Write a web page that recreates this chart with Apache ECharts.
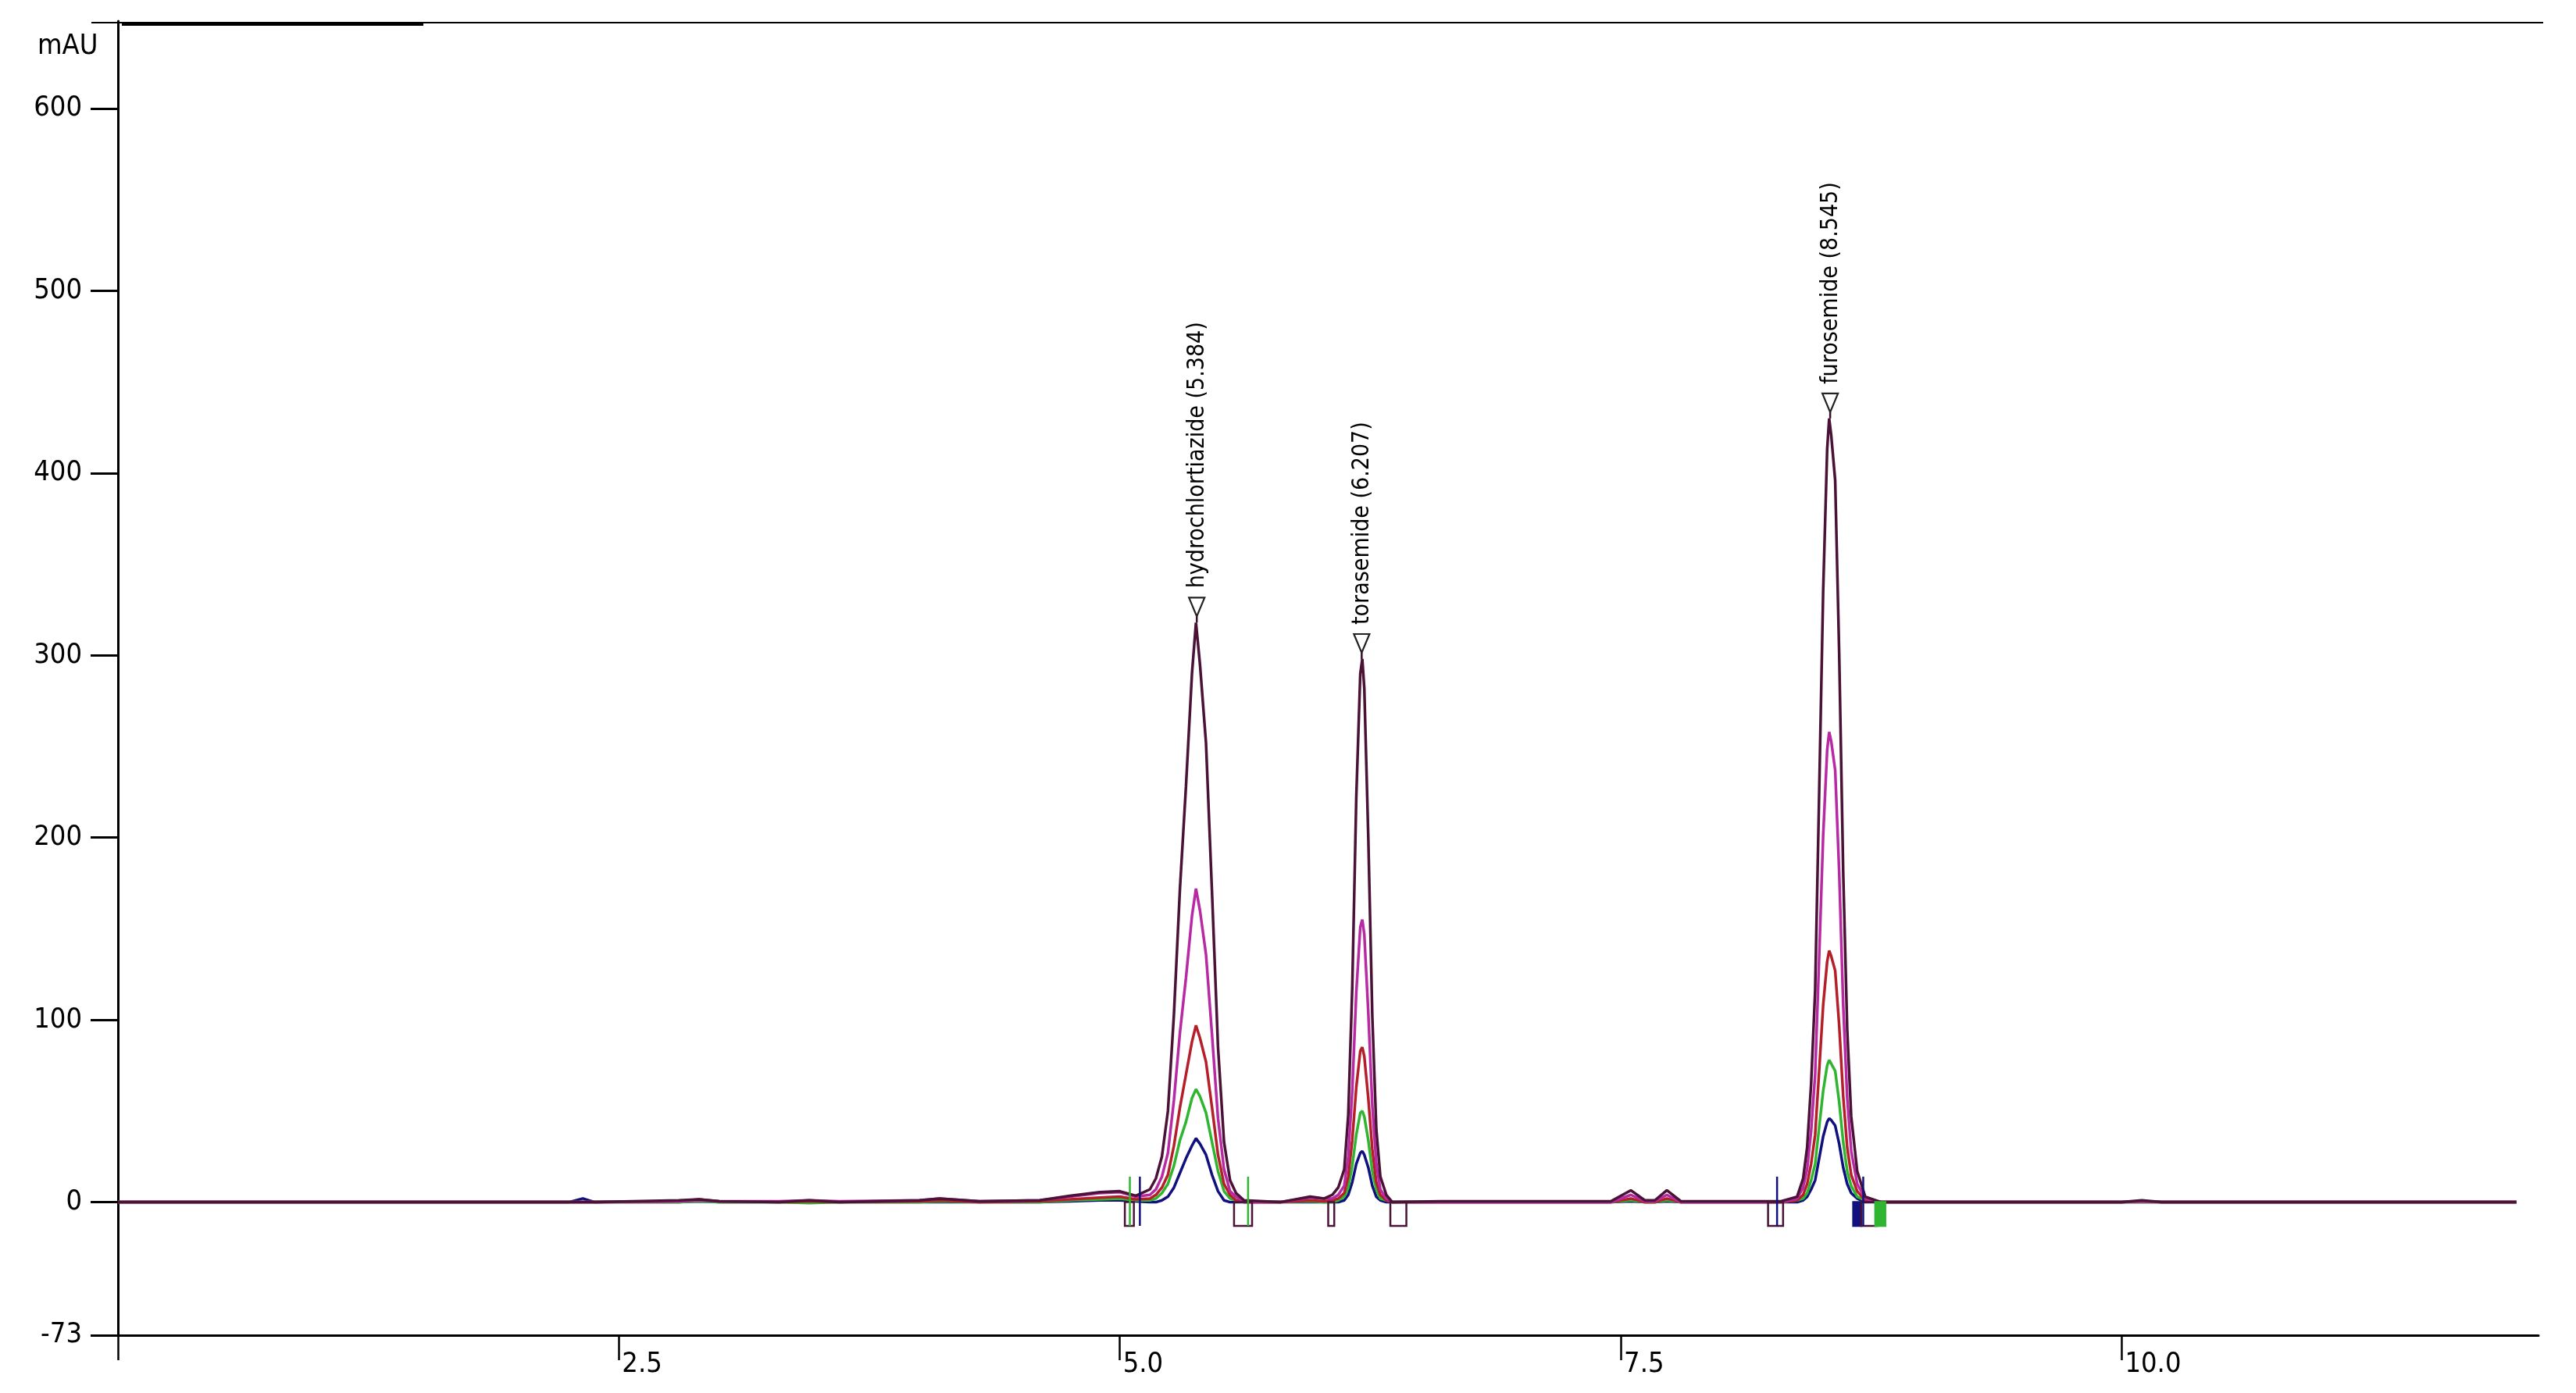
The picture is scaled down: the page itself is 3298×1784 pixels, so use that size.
<!DOCTYPE html>
<html>
<head>
<meta charset="utf-8">
<script src="https://cdn.jsdelivr.net/npm/echarts@6/dist/echarts.min.js"></script>
<style>
  html, body { margin: 0; padding: 0; background: #fff; }
  #chart { width: 3298px; height: 1784px; }
</style>
</head>
<body>
<div id="chart"></div>
<script>
// ---------------- DATA ----------------
// retention time (min) grid shared by all traces
const times = [
  0, 2.25, 2.32, 2.38, 2.8, 2.9, 3.0, 3.3, 3.45, 3.6, 4.0, 4.1, 4.3, 4.6, 4.75, 4.9, 5.0, 5.08,
  5.15, 5.18, 5.21, 5.24, 5.27, 5.30, 5.33, 5.36, 5.38, 5.40, 5.43, 5.46, 5.49, 5.52, 5.55, 5.58, 5.62,
  5.8, 5.95, 6.02,
  6.06, 6.09, 6.12, 6.14, 6.16, 6.18, 6.20, 6.21, 6.22, 6.24, 6.26, 6.28, 6.30, 6.33, 6.36,
  6.6, 7.45, 7.55, 7.62, 7.67, 7.73, 7.8, 8.3,
  8.38, 8.41, 8.43, 8.45, 8.47, 8.49, 8.51, 8.53, 8.54, 8.55, 8.57, 8.59, 8.61, 8.63, 8.65, 8.68, 8.72,
  8.8, 10.0, 10.1, 10.2, 11.97
];

// absorbance (mAU) of each overlaid run
const navyTrace = [
  0, 0, 2, 0, 0, 0.5, 0, 0, 0, 0, 0, 0, 0, 0, 0.5, 1, 1, 0.5,
  0, 0, 1, 3, 8, 16, 24, 31, 35, 32, 26, 15, 6, 1, 0, 0, 0,
  0, 0, 0,
  0, 0, 1, 4, 11, 21, 27, 28, 26, 19, 9, 3, 1, 0, 0,
  0, 0, 0.5, 0, 0, 0.5, 0, 0,
  0, 1, 3, 7, 12, 24, 36, 44, 46, 45, 42, 32, 19, 10, 5, 2, 0,
  0, 0, 0, 0, 0
];
const greenTrace = [
  0, 0, 0, 0, 0, 0.5, 0, 0, -0.5, 0, 0, 0.5, 0, 0, 1, 1.5, 2, 1,
  1, 2, 5, 10, 20, 34, 44, 57, 62, 58, 49, 33, 17, 6, 2, 1, 0,
  0, 0.5, 0,
  0, 1, 3, 8, 20, 37, 49, 50, 47, 34, 17, 7, 2, 1, 0,
  0, 0, 1, 0, 0, 1, 0, 0,
  1, 2, 5, 12, 21, 41, 61, 75, 78, 76, 72, 55, 33, 17, 9, 3, 1,
  0, 0, 0, 0, 0
];
const redTrace = [
  0, 0, 0, 0, 0.5, 1.5, 0.5, 0, 0.5, 0, 0.5, 1, 0, 0.5, 1.5, 2.5, 3, 1.5,
  2, 4, 8, 15, 31, 52, 70, 88, 97, 90, 77, 52, 26, 10, 4, 1, 0,
  0, 1, 0.5,
  1, 2, 5, 14, 34, 63, 83, 85, 80, 57, 29, 11, 4, 1, 0,
  0, 0, 2, 0, 0, 2, 0, 0,
  1, 4, 10, 21, 37, 72, 108, 132, 138, 135, 127, 97, 58, 30, 15, 6, 1,
  0, 0, 0.5, 0, 0
];
const magentaTrace = [
  0, 0, 0, 0, 0.5, 1, 0.5, 0.5, 1, 0.5, 1, 2, 0.5, 1, 3, 5, 5.5, 3,
  4, 7, 14, 27, 56, 93, 123, 157, 172, 160, 136, 92, 46, 18, 6, 3, 0,
  0, 2.5, 2,
  2, 4, 9, 25, 61, 115, 151, 155, 147, 104, 53, 21, 7, 2, 0,
  0, 0, 4, 0.5, 0.5, 4, 0, 0,
  2, 8, 18, 39, 70, 134, 201, 248, 258, 253, 237, 181, 108, 57, 28, 10, 2,
  0, 0, 0.5, 0, 0
];
const maroonTrace = [
  0, 0, 0, 0, 1, 1.5, 0.5, 0, 1, 0, 1, 2, 0.5, 1, 3.5, 5.5, 6, 3.5,
  7, 13, 25, 50, 103, 172, 228, 290, 318, 295, 252, 170, 85, 33, 12, 5, 1,
  0, 3, 2,
  4, 8, 18, 48, 118, 222, 290, 298, 282, 200, 102, 40, 14, 4, 0,
  0.5, 0.5, 6.5, 1, 1, 6.5, 0.5, 0.5,
  3, 13, 30, 65, 116, 224, 335, 413, 430, 421, 396, 301, 181, 95, 47, 17, 3,
  0, 0, 1, 0, 0
];

// peak annotations
const peakNames = ['hydrochlortiazide', 'torasemide', 'furosemide'];
const peakTimes = [5.384, 6.207, 8.545];
const peakHeights = [318, 298, 430];

// integration events: [time, trace index]
const eventTicks = [[5.05, 1], [5.10, 0], [5.64, 1], [8.28, 0], [8.71, 0]];
// baseline boxes: [start, end, trace index, filled]
const eventBoxes = [
  [5.025, 5.07, 4, 0], [5.57, 5.66, 4, 0], [6.04, 6.07, 4, 0], [6.35, 6.43, 4, 0],
  [8.235, 8.31, 4, 0], [8.66, 8.70, 0, 1], [8.70, 8.78, 4, 0], [8.77, 8.82, 1, 1]
];

// axis ticks
const xTickValues = [0, 2.5, 5, 7.5, 10];
const xLabelValues = [2.5, 5, 7.5, 10];
const yTickValues = [-73, 0, 100, 200, 300, 400, 500, 600];

// ---------------- CHART ----------------
const traceNames = ['run 1', 'run 2', 'run 3', 'run 4', 'run 5'];
const traceData = [navyTrace, greenTrace, redTrace, magentaTrace, maroonTrace];
const traceColors = ['#10107e', '#2fb52f', '#b51f2a', '#b82aa3', '#4a1236'];
const FONT = '"Liberation Sans Narrow", "Arial Narrow", "DejaVu Sans Condensed", sans-serif';

const chart = echarts.init(document.getElementById('chart'), null, { renderer: 'canvas' });

const lineSeries = traceData.map((vals, k) => ({
  name: traceNames[k],
  type: 'line',
  data: times.map((t, i) => [t, vals[i]]),
  showSymbol: false,
  symbol: 'none',
  lineStyle: { color: traceColors[k], width: 3.5 },
  z: 2 + k,
  animation: false
}));

const option = {
  backgroundColor: '#fff',
  animation: false,
  grid: { left: 151, right: 48, top: 27, bottom: 74 },
  xAxis: {
    type: 'value',
    min: 0,
    max: 12.08,
    axisLine: { show: true, onZero: false, lineStyle: { color: '#000', width: 3 } },
    axisTick: { show: true, customValues: xTickValues, length: 32, lineStyle: { color: '#000', width: 2.5 } },
    axisLabel: {
      customValues: xLabelValues,
      formatter: v => v.toFixed(1),
      align: 'left',
      margin: 20,
      fontSize: 36,
      fontFamily: FONT,
      color: '#000',
      padding: [0, 0, 0, 4]
    },
    splitLine: { show: false }
  },
  yAxis: {
    type: 'value',
    min: -73,
    max: 648,
    axisLine: { show: true, onZero: false, lineStyle: { color: '#000', width: 3 } },
    axisTick: { show: true, customValues: yTickValues, length: 35, lineStyle: { color: '#000', width: 3 } },
    axisLabel: {
      customValues: yTickValues,
      margin: 46,
      fontSize: 36,
      fontFamily: FONT,
      color: '#000'
    },
    splitLine: { show: false }
  },
  graphic: [
    { type: 'line', shape: { x1: 117, y1: 29, x2: 3256, y2: 29 }, style: { stroke: '#000', lineWidth: 2 }, z: 10 },
    { type: 'rect', shape: { x: 156, y: 28, width: 386, height: 5 }, style: { fill: '#000' }, z: 10 },
    { type: 'text', left: 48, top: 42, style: { text: 'mAU', font: '36px ' + FONT, fill: '#000' }, z: 10 }
  ],
  series: [
    ...lineSeries,
    {
      name: 'events-box',
      type: 'custom',
      coordinateSystem: 'cartesian2d',
      data: eventBoxes,
      encode: { x: [0, 1] },
      z: 20,
      renderItem: (params, api) => {
        const a = api.coord([api.value(0), 0]);
        const b = api.coord([api.value(1), -13]);
        const c = traceColors[api.value(2)];
        const filled = api.value(3) === 1;
        return {
          type: 'rect',
          shape: { x: a[0], y: a[1], width: b[0] - a[0], height: b[1] - a[1] },
          style: { fill: filled ? c : 'rgba(0,0,0,0)', stroke: c, lineWidth: 2.5 }
        };
      }
    },
    {
      name: 'events-tick',
      type: 'custom',
      coordinateSystem: 'cartesian2d',
      data: eventTicks,
      encode: { x: 0 },
      z: 20,
      renderItem: (params, api) => {
        const t = api.value(0);
        const a = api.coord([t, 14]);
        const b = api.coord([t, -13]);
        return {
          type: 'line',
          shape: { x1: a[0], y1: a[1], x2: b[0], y2: b[1] },
          style: { stroke: traceColors[api.value(1)], lineWidth: 2.5 }
        };
      }
    },
    {
      name: 'peaks',
      type: 'custom',
      coordinateSystem: 'cartesian2d',
      data: peakTimes.map((t, i) => [t, peakHeights[i], i]),
      encode: { x: 0, y: 1 },
      z: 30,
      renderItem: (params, api) => {
        const t = api.value(0);
        const p = api.coord([t, api.value(1)]);
        const idx = api.value(2);
        const tipY = p[1] - 8;
        const topY = tipY - 24;
        return {
          type: 'group',
          children: [
            { type: 'line', shape: { x1: p[0], y1: p[1], x2: p[0], y2: tipY }, style: { stroke: '#3a0d2b', lineWidth: 2.5 } },
            { type: 'polygon', shape: { points: [[p[0] - 10, topY], [p[0] + 10, topY], [p[0], tipY]] }, style: { fill: '#fff', stroke: '#222', lineWidth: 2.2 } },
            {
              type: 'text',
              x: p[0] + 1,
              y: topY - 12,
              rotation: Math.PI / 2,
              style: {
                text: peakNames[idx] + ' (' + t.toFixed(3) + ')',
                font: '30px ' + FONT,
                fill: '#000',
                align: 'left',
                verticalAlign: 'middle'
              }
            }
          ]
        };
      }
    }
  ]
};

chart.setOption(option);
</script>
</body>
</html>
